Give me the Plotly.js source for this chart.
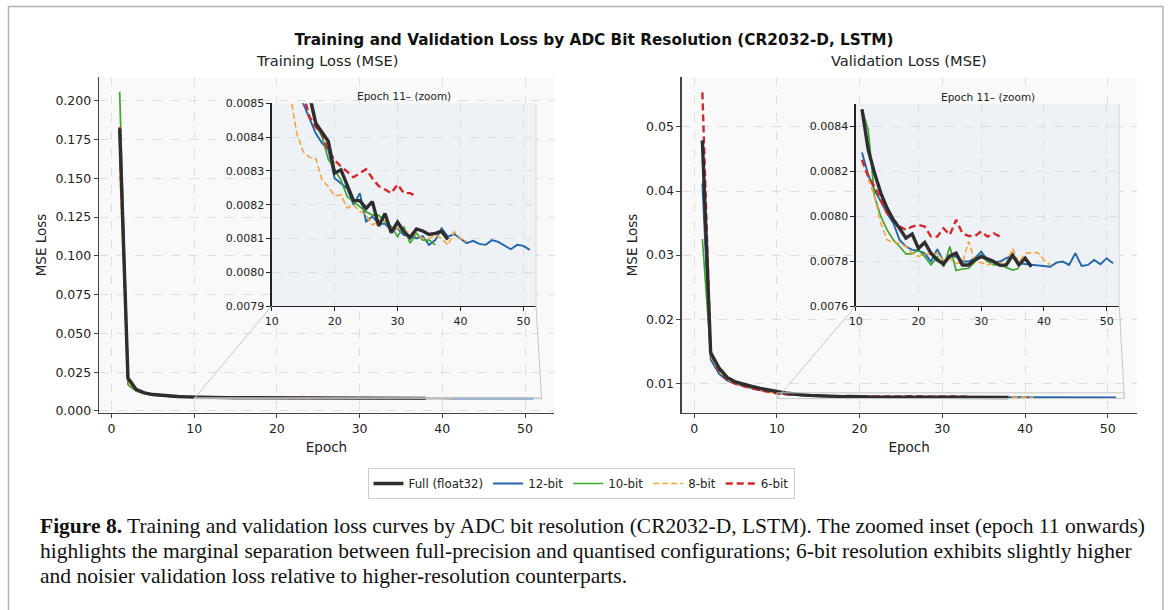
<!DOCTYPE html>
<html><head><meta charset="utf-8">
<script src="https://cdn.plot.ly/plotly-3.0.1.min.js"></script>
<style>html,body{margin:0;padding:0;background:#fff;} #chart{width:1170px;height:610px;}</style>
</head><body><div id="chart"></div><script>
// ---- data ----
const seriesNames = ["Full (float32)", "12-bit", "10-bit", "8-bit", "6-bit"];

const trainFull = [0.1822, 0.0211, 0.0138, 0.0117, 0.0106, 0.0100, 0.0096, 0.0093, 0.0091, 0.0089,
  0.00878, 0.00870, 0.00864, 0.00859, 0.00856, 0.008526,
  0.008441, 0.008416, 0.008387, 0.008293, 0.008303, 0.008258, 0.008212, 0.008212, 0.008189, 0.008209,
  0.008137, 0.008174, 0.008117, 0.008148, 0.008120, 0.008103, 0.008128, 0.008122, 0.008112, 0.008115,
  0.008121, 0.008097];
const train12 = [0.178, 0.0195, 0.0132, 0.0113, 0.0104, 0.0099, 0.0095, 0.0092, 0.0090, 0.0088,
  0.00870, 0.00862, 0.00857, 0.00853, 0.00850, 0.008456,
  0.008411, 0.008382, 0.008362, 0.008278, 0.008263, 0.008248, 0.008199, 0.008234, 0.008150, 0.008165,
  0.008143, 0.008143, 0.008125, 0.008130, 0.008110, 0.008108, 0.008100, 0.008107, 0.008081, 0.008095,
  0.008130, 0.008105, 0.008113, 0.008100, 0.008086, 0.008093, 0.008084, 0.008081, 0.008095, 0.008090,
  0.008078, 0.008068, 0.008081, 0.008078, 0.008066];
const train10 = [0.2058, 0.0170, 0.0128, 0.0112, 0.0104, 0.0099, 0.0096, 0.0093, 0.0091, 0.0089,
  0.00878, 0.00870, 0.00864, 0.00859, 0.00855, 0.00851,
  0.008436, 0.008401, 0.008334, 0.008303, 0.008273, 0.008224, 0.008209, 0.008194, 0.008179, 0.008169,
  0.008169, 0.008150, 0.008135, 0.008105, 0.008135, 0.008086, 0.008115, 0.008095, 0.008095, 0.008081];
const train8 = [0.1575, 0.0190, 0.0130, 0.0111, 0.0102, 0.0097, 0.0094, 0.0091, 0.0089, 0.0088,
  0.00868, 0.00859, 0.00852,
  0.00841, 0.008357, 0.00834, 0.008337, 0.008273, 0.008253, 0.008226, 0.008229, 0.00819, 0.0082,
  0.00818, 0.00817, 0.00814, 0.00815, 0.00815, 0.00813, 0.00813, 0.00812, 0.00812, 0.00811,
  0.00810, 0.00810, 0.00811, 0.00810, 0.00808, 0.00812, 0.00810, 0.00809];
const train6 = [0.183, 0.0220, 0.0140, 0.0117, 0.0106, 0.0100, 0.0096, 0.0093, 0.0091, 0.0089,
  0.00878, 0.00869, 0.00863, 0.00858, 0.00853, 0.00846,
  0.00843, 0.00841, 0.00836, 0.008332, 0.008313, 0.008298, 0.008281, 0.008293, 0.008305, 0.008278,
  0.008255, 0.008245, 0.008234, 0.00826, 0.008234, 0.008234, 0.008224];

const valFull = [0.0479, 0.0148, 0.0124, 0.0109, 0.0102, 0.0098, 0.0095, 0.0092, 0.0089, 0.0087,
  0.008477, 0.008296, 0.008192, 0.008103, 0.008036, 0.007984, 0.007946, 0.007902, 0.007921, 0.007857,
  0.007883, 0.007835, 0.007805, 0.007787, 0.007823, 0.007835, 0.007783, 0.007783, 0.007805, 0.00782,
  0.00781, 0.007798, 0.007781, 0.007783, 0.007827, 0.007783, 0.007813, 0.007775];
const val12 = [0.0412, 0.0137, 0.0115, 0.0104, 0.0099, 0.0095, 0.0092, 0.0089, 0.0087, 0.0085,
  0.008284, 0.008184, 0.008117, 0.008065, 0.008013, 0.007969, 0.007894, 0.007865, 0.00785, 0.007847,
  0.007835, 0.007798, 0.007853, 0.007798, 0.00782, 0.00782, 0.007798, 0.007798, 0.007813, 0.007842,
  0.007805, 0.007793, 0.007798, 0.007813, 0.007823, 0.00779, 0.007787, 0.007783, 0.007778, 0.007778,
  0.007775, 0.007793, 0.007798, 0.007783, 0.007835, 0.007778, 0.007783, 0.007805, 0.007786, 0.007813,
  0.00779];
const val10 = [0.0325, 0.0146, 0.0122, 0.0108, 0.0101, 0.0097, 0.0094, 0.0091, 0.0089, 0.0087,
  0.008477, 0.008385, 0.008088, 0.007999, 0.007939, 0.007894, 0.007865, 0.007832, 0.007832, 0.00785,
  0.00782, 0.007783, 0.00782, 0.007775, 0.007865, 0.007758, 0.007765, 0.007768, 0.007798, 0.007827,
  0.007798, 0.007783, 0.007783, 0.007772, 0.00776, 0.007768];
const val8 = [0.0450, 0.0142, 0.0119, 0.0106, 0.0099, 0.0095, 0.0092, 0.0089, 0.0086, 0.0084,
  0.008244, 0.008162, 0.008088, 0.007969, 0.007894, 0.007883, 0.00788, 0.007865, 0.007835, 0.00782,
  0.007835, 0.007827, 0.007835, 0.007805, 0.007813, 0.00779, 0.007793, 0.007887, 0.007798, 0.007793,
  0.007783, 0.00779, 0.007793, 0.00779, 0.007857, 0.007793, 0.007835, 0.007838, 0.007838, 0.007805,
  0.007783];
const val6 = [0.0554, 0.0146, 0.0120, 0.0106, 0.0099, 0.0095, 0.0092, 0.0089, 0.0086, 0.0084,
  0.008251, 0.008177, 0.008132, 0.008073, 0.008013, 0.007984, 0.007954, 0.007939, 0.007954, 0.007961,
  0.007954, 0.007909, 0.007909, 0.007946, 0.007917, 0.007984, 0.007924, 0.007912, 0.007912, 0.007932,
  0.007909, 0.007924, 0.007909];

const insetStartEpoch = 11;
const mainXTicks = [0, 10, 20, 30, 40, 50];
const insetXTicks = [10, 20, 30, 40, 50];
const trainYTicks = [0.000, 0.025, 0.050, 0.075, 0.100, 0.125, 0.150, 0.175, 0.200];
const valYTicks = [0.01, 0.02, 0.03, 0.04, 0.05];
const trainInsetYTicks = [0.0079, 0.0080, 0.0081, 0.0082, 0.0083, 0.0084, 0.0085];
const valInsetYTicks = [0.0076, 0.0078, 0.0080, 0.0082, 0.0084];

// ---- styles ----
const styles = [
  {color: '#2e2e2e', width: 3.4, dash: 'solid'},
  {color: '#2166ac', width: 1.9, dash: 'solid'},
  {color: '#3fa52c', width: 1.7, dash: 'solid'},
  {color: '#f7a33a', width: 1.6, dash: '6px,3px'},
  {color: '#d62728', width: 2.4, dash: '7px,4px'}
];
const trainSets = [trainFull, train12, train10, train8, train6];
const valSets = [valFull, val12, val10, val8, val6];
const epochs = arr => arr.map((_, i) => i + 1);
const fromEpoch = (arr, e) => arr.slice(e - 1);
const epochsFrom = (arr, e) => epochs(arr).slice(e - 1);

const W = 1170, H = 610;
const dom = {
  x1: [99 / W, 554 / W], y1: [1 - 413 / H, 1 - 77 / H],
  x2: [681.7 / W, 1136.7 / W], y2: [1 - 413 / H, 1 - 77 / H],
  x3: [271.7 / W, 536 / W], y3: [1 - 306 / H, 1 - 103.3 / H],
  x4: [855.7 / W, 1119.3 / W], y4: [1 - 306 / H, 1 - 104 / H]
};
const rng = {
  x1: [-1.5, 53.5], y1: [-0.0013, 0.2153],
  x2: [-1.5, 53.5], y2: [0.00535, 0.0578],
  x3: [10, 52], y3: [0.0079, 0.0085],
  x4: [10, 52], y4: [0.0076, 0.0085]
};

const traces = [];
const drawOrder = [1, 2, 3, 4, 0]; // Full drawn on top
drawOrder.forEach(k => {
  const s = styles[k];
  const line = {color: s.color, width: s.width, dash: s.dash};
  const tr = trainSets[k], va = valSets[k];
  traces.push({x: epochs(tr), y: tr, xaxis: 'x', yaxis: 'y', mode: 'lines', name: seriesNames[k], legendrank: k + 1, line, showlegend: true});
  traces.push({x: epochs(va), y: va, xaxis: 'x2', yaxis: 'y2', mode: 'lines', name: seriesNames[k], line, showlegend: false});
  traces.push({x: epochsFrom(tr, insetStartEpoch), y: fromEpoch(tr, insetStartEpoch), xaxis: 'x3', yaxis: 'y3', mode: 'lines', name: seriesNames[k], line, showlegend: false});
  traces.push({x: epochsFrom(va, insetStartEpoch), y: fromEpoch(va, insetStartEpoch), xaxis: 'x4', yaxis: 'y4', mode: 'lines', name: seriesNames[k], line, showlegend: false});
});

const FONT = 'DejaVu Sans, sans-serif';
const grid = {showgrid: true, gridcolor: '#d8d8d8', gridwidth: 0.8, griddash: 'dash'};
function mainX(d, r) {
  return Object.assign({domain: d, range: r, tickvals: mainXTicks, ticks: 'outside', ticklen: 4, tickwidth: 1, tickcolor: '#444',
    showline: true, linecolor: '#444', linewidth: 1.3, zeroline: false, tickfont: {family: FONT, size: 12.5, color: '#222'},
    title: {text: 'Epoch', font: {family: FONT, size: 13.5, color: '#222'}, standoff: 7}}, grid);
}
function mainY(d, r, ticks, fmt) {
  return Object.assign({domain: d, range: r, tickvals: ticks, tickformat: fmt, ticks: 'outside', ticklen: 4, tickwidth: 1, tickcolor: '#444',
    showline: true, linecolor: '#444', linewidth: 1.3, zeroline: false, tickfont: {family: FONT, size: 12.5, color: '#222'},
    title: {text: 'MSE Loss', font: {family: FONT, size: 13.5, color: '#222'}, standoff: 5}}, grid);
}
function insetAxis(d, r, ticks, fmt) {
  return Object.assign({domain: d, range: r, tickvals: ticks, tickformat: fmt, ticks: 'outside', ticklen: 4, tickwidth: 1, tickcolor: '#222',
    showline: true, linecolor: '#222', linewidth: 1.3, zeroline: false, tickfont: {family: FONT, size: 11, color: '#222'}}, grid);
}

const layout = {
  width: W, height: H, autosize: false,
  margin: {l: 0, r: 0, t: 0, b: 0},
  paper_bgcolor: '#ffffff', plot_bgcolor: '#f9f9f9',
  showlegend: true,
  font: {family: FONT, color: '#222'},
  title: {text: '<b>Training and Validation Loss by ADC Bit Resolution (CR2032-D, LSTM)</b>', x: 594 / W, xanchor: 'center', xref: 'paper',
    y: 1 - 40 / H, yanchor: 'middle', yref: 'paper', font: {family: FONT, size: 15.3, color: '#111'}},
  xaxis: mainX(dom.x1, rng.x1), yaxis: mainY(dom.y1, rng.y1, trainYTicks, '.3f'),
  xaxis2: Object.assign(mainX(dom.x2, rng.x2), {anchor: 'y2'}), yaxis2: Object.assign(mainY(dom.y2, rng.y2, valYTicks, '.2f'), {anchor: 'x2'}),
  xaxis3: Object.assign(insetAxis(dom.x3, rng.x3, insetXTicks, 'd'), {anchor: 'y3'}), yaxis3: Object.assign(insetAxis(dom.y3, rng.y3, trainInsetYTicks, '.4f'), {anchor: 'x3'}),
  xaxis4: Object.assign(insetAxis(dom.x4, rng.x4, insetXTicks, 'd'), {anchor: 'y4'}), yaxis4: Object.assign(insetAxis(dom.y4, rng.y4, valInsetYTicks, '.4f'), {anchor: 'x4'}),
  legend: {orientation: 'h', x: 581 / W, xanchor: 'center', y: 1 - 483.5 / H, yanchor: 'middle', bordercolor: '#cfcfcf', borderwidth: 1,
    bgcolor: '#ffffff', font: {family: FONT, size: 11.8, color: '#222'}, traceorder: 'normal'},
  annotations: [],
  shapes: []
};

// subplot titles
layout.annotations.push({text: 'Training Loss (MSE)', x: (dom.x1[0] + dom.x1[1]) / 2, y: 1 - 61 / H, xref: 'paper', yref: 'paper', showarrow: false,
  xanchor: 'center', yanchor: 'middle', font: {family: FONT, size: 14.6, color: '#222'}});
layout.annotations.push({text: 'Validation Loss (MSE)', x: (dom.x2[0] + dom.x2[1]) / 2, y: 1 - 61 / H, xref: 'paper', yref: 'paper', showarrow: false,
  xanchor: 'center', yanchor: 'middle', font: {family: FONT, size: 14.6, color: '#222'}});
// inset titles
[['x3', 'y3'], ['x4', 'y4']].forEach(([xa, ya]) => {
  layout.annotations.push({text: 'Epoch 11– (zoom)', x: (dom[xa][0] + dom[xa][1]) / 2, y: dom[ya][1], xref: 'paper', yref: 'paper', showarrow: false,
    xanchor: 'center', yanchor: 'bottom', yshift: -1, font: {family: FONT, size: 10.5, color: '#222'}});
});
// inset backgrounds
[['x3', 'y3'], ['x4', 'y4']].forEach(([xa, ya]) => {
  layout.shapes.push({type: 'rect', xref: xa, yref: ya, x0: rng[xa][0], x1: rng[xa][1], y0: rng[ya][0], y1: rng[ya][1],
    fillcolor: '#eef2f7', line: {width: 0}, layer: 'below'});
  // faint right edge of inset
  layout.shapes.push({type: 'line', xref: 'paper', yref: 'paper', x0: dom[xa][1], x1: dom[xa][1], y0: dom[ya][0], y1: dom[ya][1],
    line: {color: '#d6d9de', width: 1}, layer: 'above'});
});
// zoom indicator rectangles and connectors
function toPaper(axis, v) { return dom[axis][0] + (v - rng[axis][0]) / (rng[axis][1] - rng[axis][0]) * (dom[axis][1] - dom[axis][0]); }
[['x', 'y', 'x1', 'y1', 'x3', 'y3'], ['x2', 'y2', 'x2', 'y2', 'x4', 'y4']].forEach(([xr, yr, mx, my, ix, iy]) => {
  const x0 = rng[ix][0], x1 = rng[ix][1], y0 = rng[iy][0], y1 = rng[iy][1];
  layout.shapes.push({type: 'rect', xref: xr, yref: yr, x0, x1, y0, y1, line: {color: '#c8c8c8', width: 1}, fillcolor: 'rgba(0,0,0,0)', layer: 'above'});
  layout.shapes.push({type: 'line', xref: 'paper', yref: 'paper', x0: toPaper(mx, x0), y0: toPaper(my, y0), x1: dom[ix][0], y1: dom[iy][0],
    line: {color: '#c8c8c8', width: 1}, layer: 'above'});
  layout.shapes.push({type: 'line', xref: 'paper', yref: 'paper', x0: toPaper(mx, x1), y0: toPaper(my, y0), x1: dom[ix][1], y1: dom[iy][0],
    line: {color: '#c8c8c8', width: 1}, layer: 'above'});
});
// figure frame
layout.shapes.push({type: 'rect', xref: 'paper', yref: 'paper', x0: 8.5 / W, x1: 1163 / W, y0: -0.05, y1: 1 - 6.5 / H,
  line: {color: '#b4b4b4', width: 1.5}, fillcolor: 'rgba(0,0,0,0)', layer: 'below'});

// caption
const SERIF = 'Liberation Serif, serif';
const captionLines = [
  '<b>Figure 8.</b> Training and validation loss curves by ADC bit resolution (CR2032-D, LSTM). The zoomed inset (epoch 11 onwards)',
  'highlights the marginal separation between full-precision and quantised configurations; 6-bit resolution exhibits slightly higher',
  'and noisier validation loss relative to higher-resolution counterparts.'
];
captionLines.forEach((t, i) => {
  layout.annotations.push({text: t, x: 38 / W, y: 1 - (526 + 25 * i) / H, xref: 'paper', yref: 'paper', showarrow: false,
    xanchor: 'left', yanchor: 'middle', align: 'left', font: {family: SERIF, size: 21.5, color: '#111'}});
});

Plotly.newPlot('chart', traces, layout, {displayModeBar: false, staticPlot: true});
</script></body></html>
